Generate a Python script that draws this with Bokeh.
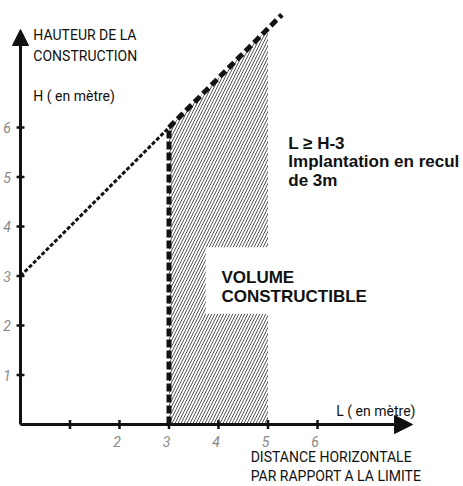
from bokeh.plotting import figure
from bokeh.models import Arrow, NormalHead, Range1d
from bokeh.core.properties import value
from bokeh.embed import file_html
from bokeh.resources import INLINE

# ---- data ----
y_ticks = [1, 2, 3, 4, 5, 6]
y_tick_labels = ["1", "2", "3", "4", "5", "6"]
x_ticks = [1, 2, 3, 4, 5, 6]
x_tick_labels = ["", "2", "3", "4", "5", "6"]

# H = L + 3 rule
rule_thin_L = [0, 3]
rule_thin_H = [3, 6]
rule_thick_L = [3, 5.28]
rule_thick_H = [6, 8.28]
setback_L = [3, 3]
setback_H = [0, 6]
# buildable volume polygon
volume_L = [3, 5, 5, 3]
volume_H = [0, 0, 8, 6]

HAND = value("Roboto")
BOLD = value("Liberation Sans")

p = figure(width=463, height=486, output_backend="svg", toolbar_location=None,
           x_range=Range1d(-0.404, 8.949), y_range=Range1d(-1.2525, 8.566),
           min_border=0, outline_line_color=None)
p.axis.visible = False
p.grid.visible = False
p.background_fill_color = "white"
p.border_fill_color = "white"

# hatched volume
p.patch(volume_L, volume_H, fill_alpha=0, line_color=None,
        hatch_pattern="/", hatch_color="#555555", hatch_scale=6, hatch_weight=1.0)
# white box behind label
p.quad(left=[3.74], right=[5.2], bottom=[2.24], top=[3.58], fill_color="white", line_color=None)

# rule lines
p.line(rule_thin_L, rule_thin_H, line_color="#111111", line_width=3, line_dash="4 2")
p.line(rule_thick_L, rule_thick_H, line_color="#111111", line_width=5, line_dash="8 4")
p.line(setback_L, setback_H, line_color="#111111", line_width=5, line_dash="8 3")

# axes
p.add_layout(Arrow(x_start=0, y_start=0, x_end=0, y_end=7.98, line_width=3, line_color="#111111",
                   end=NormalHead(size=16, fill_color="#111111", line_color="#111111")))
p.add_layout(Arrow(x_start=0, y_start=0, x_end=7.92, y_end=0, line_width=3, line_color="#111111",
                   end=NormalHead(size=18, fill_color="#111111", line_color="#111111")))

# ticks
p.segment(x0=[-0.08] * len(y_ticks), y0=y_ticks, x1=[0.08] * len(y_ticks), y1=y_ticks,
          line_color="#111111", line_width=2.5)
p.segment(x0=x_ticks, y0=[-0.09] * len(x_ticks), x1=x_ticks, y1=[0.09] * len(x_ticks),
          line_color="#111111", line_width=2.5)

# tick labels
p.text(x=[-0.27] * len(y_ticks), y=y_ticks, text=y_tick_labels, text_align="center",
       text_baseline="middle", text_color="#888888", text_font=HAND, text_font_size="14px",
       text_font_style="italic")
p.text(x=[t - 0.05 for t in x_ticks], y=[-0.34] * len(x_ticks), text=x_tick_labels,
       text_align="center", text_baseline="middle", text_color="#888888", text_font=HAND,
       text_font_size="14px", text_font_style="italic")

# axis titles
p.text(x=[0.26], y=[8.03], text=["HAUTEUR DE LA\nCONSTRUCTION"], text_align="left",
       text_baseline="top", text_color="#111111", text_font=HAND, text_font_size="14px",
       text_line_height=1.3)
p.text(x=[0.26], y=[6.8], text=["H ( en mètre)"], text_align="left", text_baseline="top",
       text_color="#111111", text_font=HAND, text_font_size="14px")
p.text(x=[6.38], y=[0.27], text=["L ( en mètre)"], text_align="left", text_baseline="middle",
       text_color="#111111", text_font=HAND, text_font_size="14px")
p.text(x=[4.65], y=[-0.5], text=["DISTANCE HORIZONTALE\nPAR RAPPORT A LA LIMITE"],
       text_align="left", text_baseline="top", text_color="#111111", text_font=HAND,
       text_font_size="14px", text_line_height=1.2)

# annotations
p.text(x=[5.41], y=[5.87], text=["L ≥ H-3\nImplantation en recul\nde 3m"], text_align="left",
       text_baseline="top", text_color="#111111", text_font=BOLD, text_font_size="17px",
       text_font_style="bold", text_line_height=0.97)
p.text(x=[4.06], y=[3.17], text=["VOLUME\nCONSTRUCTIBLE"], text_align="left",
       text_baseline="top", text_color="#111111", text_font=BOLD, text_font_size="17px",
       text_font_style="bold", text_line_height=1.0)

open("out.html", "w").write(file_html(p, INLINE))
